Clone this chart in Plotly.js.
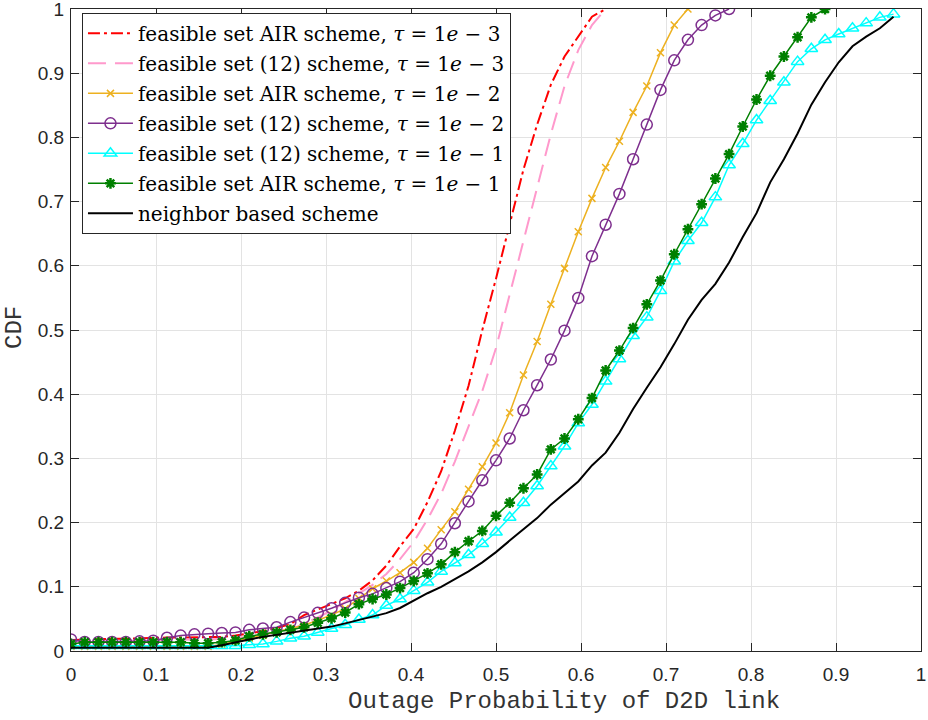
<!DOCTYPE html>
<html>
<head>
<meta charset="utf-8">
<script src="https://cdn.plot.ly/plotly-3.0.1.min.js"></script>
<style>html,body{margin:0;padding:0;background:#fff;}#chart{width:928px;height:720px;}</style>
</head>
<body>
<div id="chart"></div>
<script>
// Shared x grid (outage probability samples)
const xGrid = [0, 0.0161, 0.0323, 0.0484, 0.0645, 0.0806, 0.0968, 0.1129, 0.1290, 0.1452,
  0.1613, 0.1774, 0.1935, 0.2097, 0.2258, 0.2419, 0.2581, 0.2742, 0.2903, 0.3065,
  0.3226, 0.3387, 0.3548, 0.3710, 0.3871, 0.4032, 0.4194, 0.4355, 0.4516, 0.4677,
  0.4839, 0.5000, 0.5161, 0.5323, 0.5484, 0.5645, 0.5806, 0.5968, 0.6129, 0.6290,
  0.6452, 0.6613, 0.6774, 0.6935, 0.7097, 0.7258, 0.7419, 0.7581, 0.7742, 0.7903,
  0.8065, 0.8226, 0.8387, 0.8548, 0.8710, 0.8871, 0.9032, 0.9194, 0.9355, 0.9516, 0.9677];

const airTau3 = [0.017, 0.018, 0.018, 0.019, 0.019, 0.020, 0.020, 0.021, 0.021, 0.021,
  0.021, 0.022, 0.024, 0.027, 0.031, 0.036, 0.042, 0.056, 0.065, 0.074,
  0.082, 0.094, 0.110, 0.133, 0.163, 0.190, 0.232, 0.280, 0.343, 0.413,
  0.500, 0.580, 0.665, 0.750, 0.820, 0.882, 0.926, 0.957, 0.988, 1.0];

const set12Tau3 = [0.015, 0.015, 0.015, 0.016, 0.016, 0.016, 0.017, 0.017, 0.017, 0.018,
  0.018, 0.019, 0.020, 0.022, 0.025, 0.029, 0.034, 0.042, 0.052, 0.063,
  0.076, 0.089, 0.103, 0.120, 0.143, 0.170, 0.205, 0.245, 0.295, 0.350,
  0.405, 0.472, 0.555, 0.638, 0.720, 0.805, 0.880, 0.936, 0.975, 1.0];

const airTau2 = [0.007, 0.007, 0.007, 0.007, 0.007, 0.007, 0.007, 0.007, 0.007, 0.007,
  0.007, 0.010, 0.015, 0.020, 0.024, 0.029, 0.035, 0.040, 0.048, 0.056,
  0.066, 0.082, 0.097, 0.109, 0.122, 0.138, 0.160, 0.189, 0.217, 0.252,
  0.287, 0.324, 0.371, 0.430, 0.482, 0.540, 0.596, 0.653, 0.705, 0.753,
  0.794, 0.839, 0.880, 0.932, 0.975, 1.0];

const set12Tau2 = [0.018, 0.014, 0.014, 0.014, 0.014, 0.015, 0.016, 0.0206, 0.024, 0.026,
  0.027, 0.028, 0.029, 0.033, 0.035, 0.037, 0.045, 0.052, 0.0595, 0.0667,
  0.075, 0.083, 0.089, 0.098, 0.108, 0.122, 0.143, 0.167, 0.199, 0.233,
  0.266, 0.297, 0.331, 0.375, 0.414, 0.454, 0.499, 0.550, 0.615, 0.664,
  0.712, 0.766, 0.820, 0.874, 0.920, 0.952, 0.975, 0.990, 1.0];

const set12Tau1 = [0.008, 0.008, 0.008, 0.008, 0.008, 0.008, 0.008, 0.008, 0.008, 0.008,
  0.008, 0.008, 0.008, 0.0098, 0.011, 0.015, 0.020, 0.023, 0.029, 0.035,
  0.041, 0.049, 0.056, 0.071, 0.081, 0.094, 0.107, 0.124, 0.137, 0.150,
  0.167, 0.185, 0.208, 0.231, 0.257, 0.288, 0.319, 0.355, 0.384, 0.420,
  0.455, 0.491, 0.520, 0.561, 0.607, 0.639, 0.667, 0.707, 0.757, 0.790,
  0.827, 0.857, 0.886, 0.918, 0.938, 0.952, 0.961, 0.970, 0.978, 0.987, 0.992];

const airTau1 = [0.011, 0.0138, 0.0138, 0.0138, 0.0138, 0.0138, 0.0138, 0.0138, 0.0138, 0.012,
  0.012, 0.0138, 0.0165, 0.023, 0.026, 0.029, 0.033, 0.037, 0.044, 0.051,
  0.060, 0.073, 0.081, 0.088, 0.098, 0.109, 0.121, 0.135, 0.154, 0.171,
  0.187, 0.2105, 0.231, 0.2535, 0.275, 0.314, 0.331, 0.361, 0.394, 0.437,
  0.468, 0.503, 0.540, 0.577, 0.618, 0.657, 0.696, 0.736, 0.774, 0.817,
  0.859, 0.896, 0.926, 0.956, 0.987, 1.0];

const neighbor = [0.005, 0.005, 0.005, 0.005, 0.005, 0.005, 0.005, 0.005, 0.005, 0.005,
  0.005, 0.009, 0.014, 0.018, 0.022, 0.025, 0.028, 0.031, 0.034, 0.038,
  0.043, 0.048, 0.053, 0.059, 0.067, 0.079, 0.090, 0.100, 0.112, 0.124,
  0.138, 0.154, 0.172, 0.190, 0.207, 0.228, 0.246, 0.264, 0.289, 0.309,
  0.340, 0.377, 0.410, 0.442, 0.478, 0.516, 0.547, 0.572, 0.605, 0.645,
  0.682, 0.730, 0.766, 0.806, 0.851, 0.886, 0.917, 0.942, 0.957, 0.970, 0.988];

const seriesNames = [
  'feasible set AIR scheme, <i>τ</i> = 1<i>e</i> − 3',
  'feasible set (12) scheme, <i>τ</i> = 1<i>e</i> − 3',
  'feasible set AIR scheme, <i>τ</i> = 1<i>e</i> − 2',
  'feasible set (12) scheme, <i>τ</i> = 1<i>e</i> − 2',
  'feasible set (12) scheme, <i>τ</i> = 1<i>e</i> − 1',
  'feasible set AIR scheme, <i>τ</i> = 1<i>e</i> − 1',
  'neighbor based scheme'
];
const tickVals = [0, 0.1, 0.2, 0.3, 0.4, 0.5, 0.6, 0.7, 0.8, 0.9, 1];
const tickText = ['0', '0.1', '0.2', '0.3', '0.4', '0.5', '0.6', '0.7', '0.8', '0.9', '1'];
const xLabel = 'Outage Probability of D2D link';
const yLabel = 'CDF';

function tr(y, name, group, line, marker) {
  const t = {
    x: xGrid.slice(0, y.length), y: y, name: name, legendgroup: group,
    type: 'scatter', mode: marker ? 'lines+markers' : 'lines', line: line
  };
  if (marker) t.marker = marker;
  return t;
}

const data = [
  tr(airTau3, seriesNames[0], 'g1', {color: '#ff0000', width: 2, dash: '12px,4px,3px,4px'}),
  tr(set12Tau3, seriesNames[1], 'g2', {color: '#ff99cc', width: 2, dash: '18px,9px'}),
  tr(airTau2, seriesNames[2], 'g3', {color: '#edb120', width: 1.5},
     {symbol: 'x-thin', size: 7, color: '#edb120', line: {color: '#edb120', width: 1.5}}),
  tr(set12Tau2, seriesNames[3], 'g4', {color: '#7e2f8e', width: 1.5},
     {symbol: 'circle-open', size: 11, color: '#7e2f8e', line: {color: '#7e2f8e', width: 1.5}}),
  tr(set12Tau1, seriesNames[4], 'g5', {color: '#00ffff', width: 1.5},
     {symbol: 'triangle-up-open', size: 11, color: '#00ffff', line: {color: '#00ffff', width: 1.5}}),
  tr(airTau1, seriesNames[5], 'g6', {color: '#008000', width: 1.5},
     {symbol: 'asterisk-open', size: 9, color: '#008000', line: {color: '#008000', width: 2.5}}),
  tr(neighbor, seriesNames[6], 'g7', {color: '#000000', width: 2})
];

const axisCommon = {
  range: [0, 1], tickmode: 'array', tickvals: tickVals, ticktext: tickText,
  ticks: 'inside', ticklen: 8, tickwidth: 1, tickcolor: '#262626',
  showline: true, linecolor: '#262626', linewidth: 1, mirror: 'ticks',
  showgrid: true, gridcolor: '#e3e3e3', gridwidth: 1, zeroline: false,
  tickfont: {family: 'Liberation Sans, Arial, sans-serif', size: 19, color: '#262626'},
  ticklabeloverflow: 'allow', automargin: false,
  fixedrange: true
};

const labelFont = {family: 'Liberation Mono, Courier New, monospace', size: 24, color: '#333333'};

const layout = {
  width: 928, height: 720,
  margin: {l: 71, r: 7, t: 9, b: 69},
  paper_bgcolor: '#ffffff', plot_bgcolor: '#ffffff',
  showlegend: true,
  xaxis: Object.assign({}, axisCommon, {ticklabelstandoff: 6}),
  yaxis: Object.assign({}, axisCommon, {ticklabelstandoff: 2}),
  annotations: [
    {text: xLabel, xref: 'paper', yref: 'paper', x: 0.58, y: -0.0794,
     xanchor: 'center', yanchor: 'middle', showarrow: false, font: labelFont},
    {text: yLabel, xref: 'paper', yref: 'paper', x: -0.0659, y: 0.5047, textangle: -90,
     xanchor: 'center', yanchor: 'middle', showarrow: false, font: labelFont}
  ],
  legend: {
    x: 0.0129, y: 0.994, xanchor: 'left', yanchor: 'top',
    bgcolor: '#ffffff', bordercolor: '#262626', borderwidth: 1,
    font: {family: 'DejaVu Serif, serif', size: 20, color: '#000000'},
    traceorder: 'grouped', tracegroupgap: 1, itemwidth: 45
  }
};

Plotly.newPlot('chart', data, layout, {displayModeBar: false, staticPlot: true});
</script>
</body>
</html>
